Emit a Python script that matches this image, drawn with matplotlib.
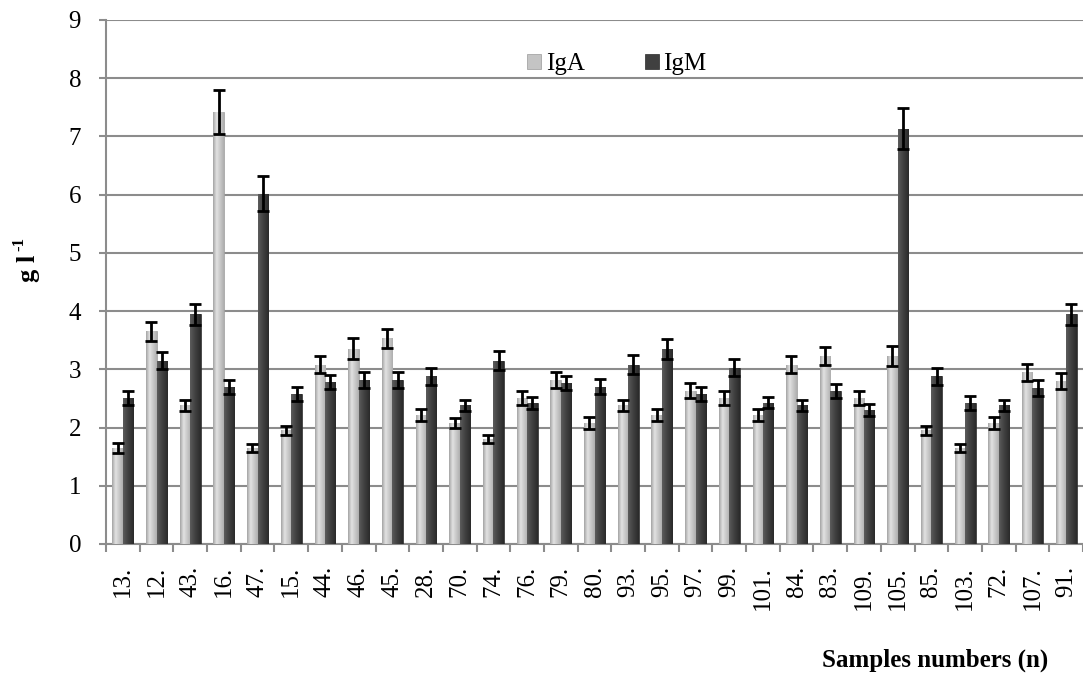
import numpy as np
import matplotlib.pyplot as plt
from matplotlib.colors import LinearSegmentedColormap

plt.rcParams['font.family'] = ['Liberation Serif', 'DejaVu Serif']

samples = ["13.", "12.", "43.", "16.", "47.", "15.", "44.", "46.", "45.", "28.",
           "70.", "74.", "76.", "79.", "80.", "93.", "95.", "97.", "99.", "101.",
           "84.", "83.", "109.", "105.", "85.", "103.", "72.", "107.", "91."]
iga = [1.65, 3.65, 2.38, 7.42, 1.65, 1.95, 3.08, 3.35, 3.53, 2.22,
       2.08, 1.80, 2.50, 2.82, 2.08, 2.38, 2.22, 2.63, 2.50, 2.22,
       3.08, 3.23, 2.50, 3.23, 1.95, 1.65, 2.08, 2.95, 2.80]
iga_err = [0.08, 0.17, 0.10, 0.37, 0.07, 0.07, 0.15, 0.18, 0.17, 0.10,
           0.08, 0.07, 0.12, 0.14, 0.10, 0.10, 0.10, 0.13, 0.12, 0.10,
           0.15, 0.16, 0.12, 0.17, 0.07, 0.07, 0.10, 0.15, 0.14]
igm = [2.50, 3.15, 3.95, 2.70, 6.02, 2.57, 2.78, 2.82, 2.82, 2.88,
       2.38, 3.15, 2.42, 2.77, 2.70, 3.08, 3.35, 2.57, 3.03, 2.43,
       2.38, 2.63, 2.30, 7.13, 2.88, 2.43, 2.38, 2.68, 3.95]
igm_err = [0.12, 0.15, 0.18, 0.12, 0.30, 0.12, 0.12, 0.14, 0.14, 0.15,
           0.10, 0.16, 0.10, 0.12, 0.13, 0.16, 0.17, 0.12, 0.15, 0.10,
           0.10, 0.12, 0.10, 0.35, 0.15, 0.12, 0.10, 0.13, 0.18]

fig = plt.figure(figsize=(10.83, 6.74), dpi=100)
ax = fig.add_axes([106/1083, 1 - 544/674, 1 - 106/1083, (544 - 20)/674])

x = np.arange(len(samples)) + 0.5
w = 0.31
xlim = (0, (1083 - 106) / 34)

# shaded fill like the original (light stripe across each bar)
cm_a = LinearSegmentedColormap.from_list("a", ["#a4a4a4", "#e2e2e2", "#c8c8c8", "#aeaeae"])
cm_m = LinearSegmentedColormap.from_list("m", ["#5c5c5c", "#484848", "#383838", "#2a2a2a"])
grad = np.linspace(0, 1, 64).reshape(1, -1)

bars_a = ax.bar(x - w/2, iga, w, color="#c4c4c4", edgecolor="#9a9a9a",
                linewidth=0.5, label="IgA", zorder=3)
bars_m = ax.bar(x + w/2, igm, w, color="#404040", edgecolor="#2a2a2a",
                linewidth=0.5, label="IgM", zorder=3)
for bars, cm in [(bars_a, cm_a), (bars_m, cm_m)]:
    for p in bars:
        x0, h = p.get_x(), p.get_height()
        im = ax.imshow(grad, cmap=cm, extent=[x0, x0 + p.get_width(), 0, h],
                       aspect="auto", zorder=3.5, interpolation="bilinear")
        im.set_clip_path(p)

err_kw = dict(fmt="none", ecolor="black", elinewidth=2, capsize=4.5, capthick=2, zorder=5)
ax.errorbar(x - w/2, iga, yerr=iga_err, **err_kw)
ax.errorbar(x + w/2, igm, yerr=igm_err, **err_kw)

ax.set_ylim(0, 9)
ax.set_xlim(*xlim)
ax.set_yticks(range(10))
ax.yaxis.grid(True, color="#8c8c8c", linewidth=1.5, zorder=0)
ax.set_axisbelow(True)

ax.set_xticks(np.arange(len(samples) + 1))
ax.set_xticklabels([])
ax.set_xticks(x, minor=True)
ax.set_xticklabels(samples, minor=True, rotation=90)
ax.tick_params(axis="x", which="major", length=6, width=1.5, color="#8c8c8c")
ax.tick_params(axis="x", which="minor", length=0, pad=16, labelsize=18)
ax.tick_params(axis="y", length=5, width=1.5, color="#8c8c8c", labelsize=18, pad=13)

for s in ["top", "right"]:
    ax.spines[s].set_visible(False)
for s in ["left", "bottom"]:
    ax.spines[s].set_color("#8c8c8c")
    ax.spines[s].set_linewidth(1.5)

# y label "g l-1" with superscript
fig.text(28/1083, 1 - 282/674, "g l", rotation=90, fontsize=19,
         fontweight="bold", ha="center", va="bottom")
fig.text(19/1083, 1 - 251/674, "-1", rotation=90, fontsize=12,
         fontweight="bold", ha="center", va="bottom")
fig.text(935/1083, 1 - 660/674, "Samples numbers (n)", fontsize=18,
         fontweight="bold", ha="center", va="center")

ax.legend(loc="center", bbox_to_anchor=(0.523, 0.916), ncol=2,
          frameon=False, fontsize=18, handlelength=0.55, handleheight=0.55,
          handletextpad=0.2, columnspacing=2.4)

fig.savefig("out.png", dpi=100)
